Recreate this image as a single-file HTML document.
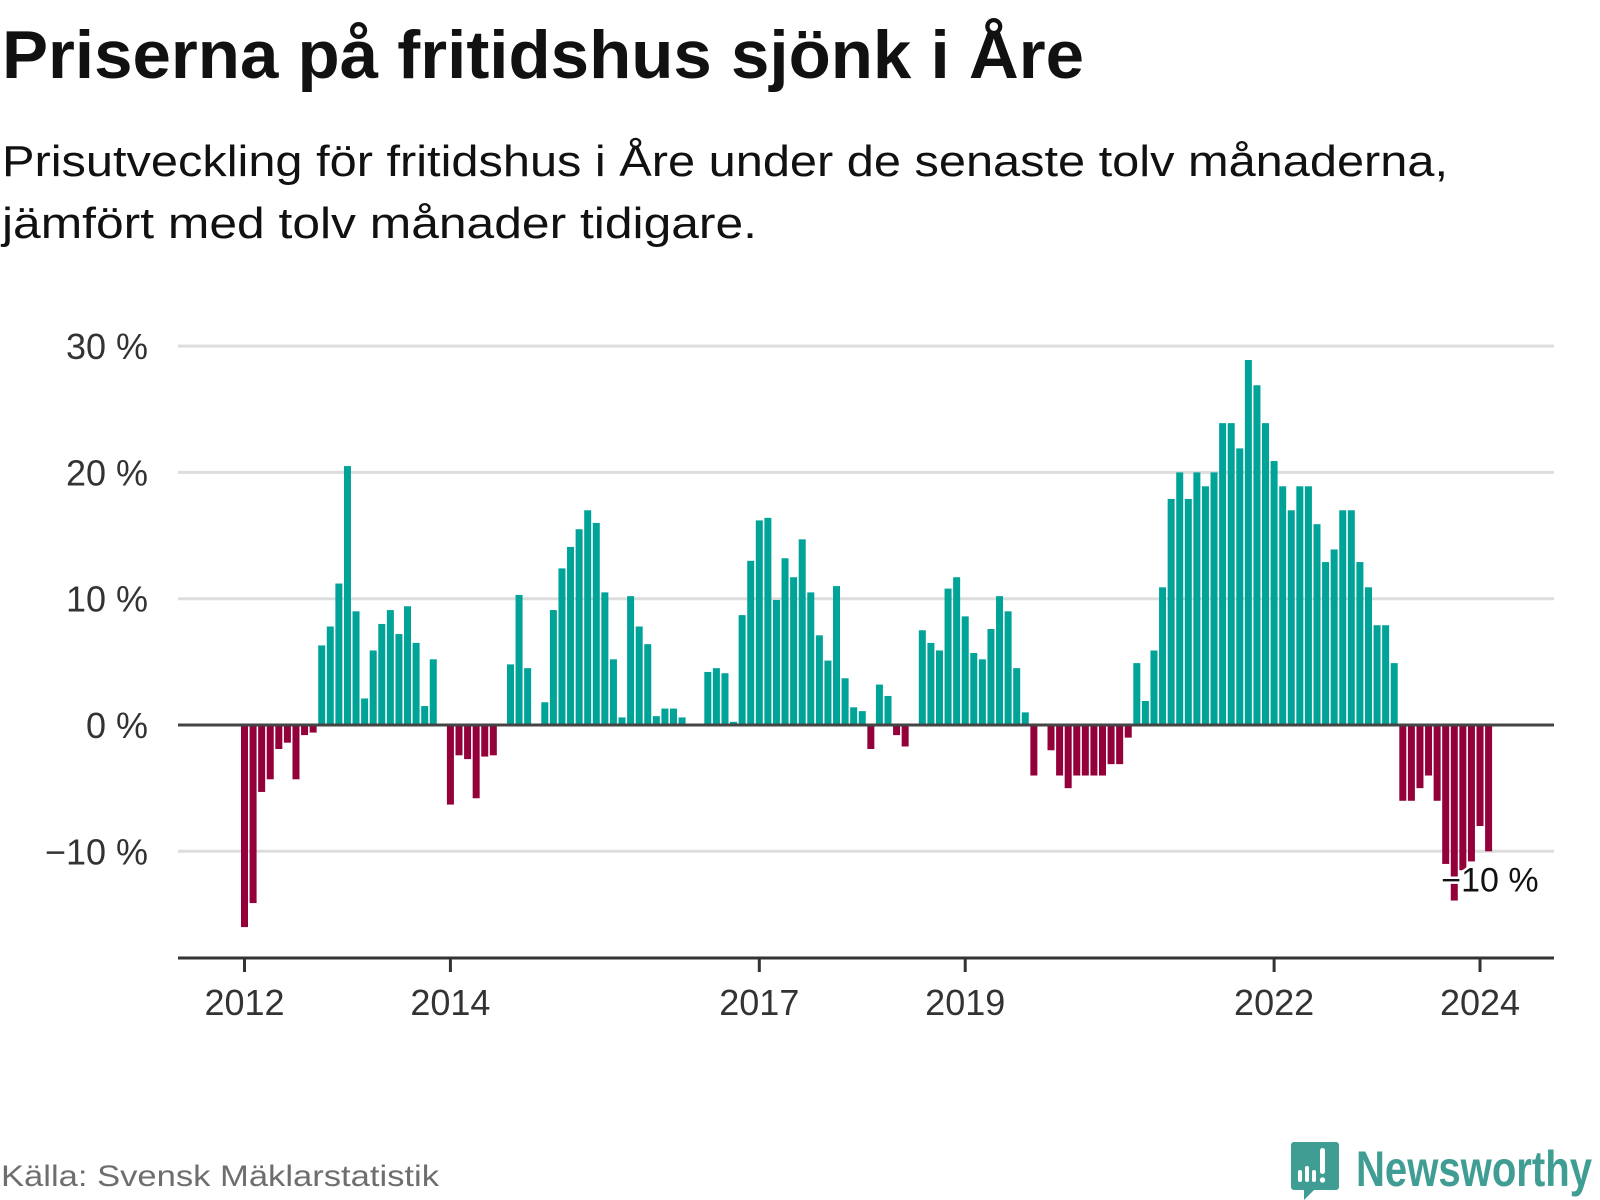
<!DOCTYPE html>
<html><head><meta charset="utf-8"><style>
html,body{margin:0;padding:0;background:#fff;}
svg{display:block;font-family:"Liberation Sans","DejaVu Sans",sans-serif;}
</style></head><body>
<svg id="chart" width="1600" height="1200" viewBox="0 0 1600 1200" xmlns="http://www.w3.org/2000/svg">
<text x="2" y="78" font-size="68" font-weight="bold" fill="#111" textLength="1082" lengthAdjust="spacingAndGlyphs">Priserna på fritidshus sjönk i Åre</text>
<text x="2" y="176" font-size="44" fill="#111" textLength="1446" lengthAdjust="spacingAndGlyphs">Prisutveckling för fritidshus i Åre under de senaste tolv månaderna,</text>
<text x="2" y="238" font-size="44" fill="#111" textLength="755" lengthAdjust="spacingAndGlyphs">jämfört med tolv månader tidigare.</text>
<g id="grid"></g>
<g id="yticks"></g>
<g id="bars"></g>
<g id="xaxis"></g>
<g id="annot"></g>
<text x="1" y="1186" font-size="30" fill="#6e6e6e" textLength="438" lengthAdjust="spacingAndGlyphs">Källa: Svensk Mäklarstatistik</text>
<g>
  <path d="M1294 1142 h42 a3 3 0 0 1 3 3 v42 a3 3 0 0 1 -3 3 h-22 l-10 10 v-10 h-10 a3 3 0 0 1 -3 -3 v-42 a3 3 0 0 1 3 -3z" fill="#3f9d94"/>
  <rect x="1298" y="1170" width="4" height="12" rx="2" fill="#fff"/>
  <rect x="1305" y="1166" width="4" height="16" rx="2" fill="#fff"/>
  <rect x="1312" y="1170" width="4" height="12" rx="2" fill="#fff"/>
  <rect x="1320" y="1148" width="5" height="26" rx="2.5" fill="#fff"/>
  <circle cx="1322.5" cy="1180" r="2.7" fill="#fff"/>
  <text x="1356" y="1186" font-size="50" font-weight="bold" fill="#3f9d94" textLength="236" lengthAdjust="spacingAndGlyphs">Newsworthy</text>
</g>
</svg>
<script>
// Monthly change (%), Jan 2012 .. Feb 2024
const startYear = 2012;
const values = [
-16.0,-14.1,-5.3,-4.3,-1.9,-1.4,-4.3,-0.8,-0.6,6.3,7.8,11.2,
20.5,9.0,2.1,5.9,8.0,9.1,7.2,9.4,6.5,1.5,5.2,0,
-6.3,-2.4,-2.7,-5.8,-2.5,-2.4,0,4.8,10.3,4.5,0,1.8,
9.1,12.4,14.1,15.5,17.0,16.0,10.5,5.2,0.6,10.2,7.8,6.4,
0.7,1.3,1.3,0.6,0,0,4.2,4.5,4.1,0.25,8.7,13.0,
16.2,16.4,9.9,13.2,11.7,14.7,10.5,7.1,5.1,11.0,3.7,1.4,
1.1,-1.9,3.2,2.3,-0.8,-1.7,0,7.5,6.5,5.9,10.8,11.7,
8.6,5.7,5.2,7.6,10.2,9.0,4.5,1.0,-4.0,0,-2.0,-4.0,
-5.0,-4.0,-4.0,-4.0,-4.0,-3.1,-3.1,-1.0,4.9,1.9,5.9,10.9,
17.9,20.0,17.9,20.0,18.9,20.0,23.9,23.9,21.9,28.9,26.9,23.9,
20.9,18.9,17.0,18.9,18.9,15.9,12.9,13.9,17.0,17.0,12.9,10.9,
7.9,7.9,4.9,-6.0,-6.0,-5.0,-4.0,-6.0,-11.0,-13.9,-11.5,-10.8,
-8.0,-10.0
];
const yTicks = [-10, 0, 10, 20, 30];
const yTickLabels = ["\u221210 %", "0 %", "10 %", "20 %", "30 %"];
const xTickYears = [2012, 2014, 2017, 2019, 2022, 2024];
const lastLabel = "\u221210 %";

const NS = "http://www.w3.org/2000/svg";
const plotLeft = 178, plotRight = 1554, axisY = 958;
const zeroY = 725, pxPerPct = 12.63;
const firstX = 244.5, step = 8.58, barW = 7;
function yScale(v){ return zeroY - v * pxPerPct; }
function xScale(i){ return firstX + i * step; }
function mk(tag, attrs, parent){ const e = document.createElementNS(NS, tag); for (const k in attrs) e.setAttribute(k, attrs[k]); parent.appendChild(e); return e; }

const grid = document.getElementById('grid');
const yt = document.getElementById('yticks');
yTicks.forEach((t, i) => {
  if (t !== 0) {
    const l = mk('line', {x1: plotLeft, x2: plotRight, y1: yScale(t), y2: yScale(t), stroke: '#dddddd', 'stroke-width': 3}, grid);
    
    
  }
  const tx = mk('text', {x: 148, y: yScale(t) + 13, 'text-anchor': 'end', 'font-size': 36, fill: '#333'}, yt);
  tx.textContent = yTickLabels[i];
  
  
});

const bars = document.getElementById('bars');
values.forEach((v, i) => {
  if (v === 0) return;
  const y0 = yScale(0), y1 = yScale(v);
  const r = mk('rect', {x: xScale(i) - barW / 2, y: Math.min(y0, y1), width: barW, height: Math.abs(y1 - y0), fill: v > 0 ? '#00a398' : '#93003a'}, bars);
  
  
});
const zl = mk('line', {x1: plotLeft, x2: plotRight, y1: zeroY, y2: zeroY, stroke: '#444', 'stroke-width': 3}, bars);



const xa = document.getElementById('xaxis');
const al = mk('line', {x1: plotLeft, x2: plotRight, y1: axisY, y2: axisY, stroke: '#333', 'stroke-width': 3}, xa);


xTickYears.forEach(yr => {
  const x = xScale((yr - startYear) * 12);
  const t = mk('line', {x1: x, x2: x, y1: axisY, y2: axisY + 14, stroke: '#333', 'stroke-width': 3}, xa);
  
  
  const tx = mk('text', {x: x, y: 1015, 'text-anchor': 'middle', 'font-size': 36, fill: '#333'}, xa);
  tx.textContent = String(yr);
  
  
});

const an = document.getElementById('annot');
const lastI = values.length - 1;
const at = mk('text', {x: xScale(lastI) + 50, y: yScale(values[lastI]) + 40, 'text-anchor': 'end', 'font-size': 34, fill: '#111', stroke: '#fff', 'stroke-width': 5, 'paint-order': 'stroke'}, an);
at.textContent = lastLabel;


</script>
</body></html>
